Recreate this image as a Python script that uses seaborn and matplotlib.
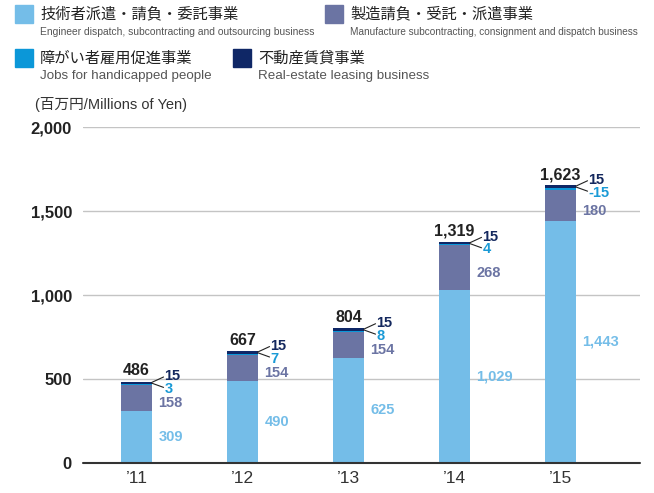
import matplotlib
matplotlib.use("Agg")
import matplotlib.pyplot as plt
import matplotlib.patches as mpatches
import seaborn as sns
import pandas as pd
import numpy as np

years = ["\u201911", "\u201912", "\u201913", "\u201914", "\u201915"]
engineer = [309, 490, 625, 1029, 1443]
manufacture = [158, 154, 154, 268, 180]
jobs = [3, 7, 8, 4, -15]
real_estate = [15, 15, 15, 15, 15]
totals = [486, 667, 804, 1319, 1623]

series_names = [
    ("技術者派遣・請負・委託事業", "Engineer dispatch, subcontracting and outsourcing business"),
    ("製造請負・受託・派遣事業", "Manufacture subcontracting, consignment and dispatch business"),
    ("障がい者雇用促進事業", "Jobs for handicapped people"),
    ("不動産賃貸事業", "Real-estate leasing business"),
]
colors = ["#74bde8", "#6b74a3", "#0b97d8", "#0f2766"]
label_colors = ["#74bde8", "#6b74a3", "#1a9ad6", "#14285e"]

FONT = ["Liberation Sans", "Noto Sans CJK JP", "DejaVu Sans"]


def main():
    sns.set_theme(style="white")
    plt.rcParams["font.family"] = FONT

    fig = plt.figure(figsize=(6.54, 4.93), dpi=100)
    W, H = 654, 493
    ax = fig.add_axes([83 / W, (H - 463) / H, (640 - 83) / W, (463 - 127) / H])

    # cumulative heights, drawn back to front so the stack shows
    layers = [engineer, manufacture, [abs(v) for v in jobs], real_estate]
    cum = np.cumsum(np.array(layers), axis=0)
    df = pd.DataFrame({"year": years})
    for i in range(3, -1, -1):
        df["h"] = cum[i]
        sns.barplot(data=df, x="year", y="h", color=colors[i], width=0.29,
                    saturation=1, ax=ax, linewidth=0)

    ax.set_xlim(-0.505, 4.75)
    ax.set_ylim(0, 2000)
    ax.set_yticks([0, 500, 1000, 1500, 2000])
    ax.set_yticklabels(["0", "500", "1,000", "1,500", "2,000"], fontsize=12,
                       fontweight="bold", color="#222222")
    ax.tick_params(axis="y", length=0, pad=8)
    ax.tick_params(axis="x", length=0, pad=6, labelsize=12.5, labelcolor="#333333")
    ax.set_xlabel("")
    ax.set_ylabel("")
    for s in ax.spines.values():
        s.set_visible(False)
    for v in [500, 1000, 1500, 2000]:
        ax.axhline(v, color="#c4c4c4", lw=1, zorder=0)
    ax.axhline(0, color="#333333", lw=1.5, zorder=5, clip_on=False)

    half = 0.145
    for i in range(len(years)):
        top = cum[3][i]
        # total
        ax.text(i, top + 18, f"{totals[i]:,}", ha="center", va="bottom",
                fontsize=11.5, fontweight="bold", color="#222222")
        # engineer / manufacture labels
        ax.text(i + half + 0.06, engineer[i] / 2, f"{engineer[i]:,}", ha="left",
                va="center", fontsize=10.5, fontweight="bold", color=label_colors[0])
        ax.text(i + half + 0.06, engineer[i] + manufacture[i] / 2 - 32,
                f"{manufacture[i]:,}", ha="left", va="center", fontsize=10.5,
                fontweight="bold", color=label_colors[1])
        # leader lines and small values
        x0 = i + half
        y_re = top + 32
        y_jb = top - 45
        ax.plot([x0, x0 + 0.11], [top - 5, y_re - 5], color="#222222", lw=0.8)
        ax.plot([x0, x0 + 0.11], [top - 10, y_jb + 10], color="#222222", lw=0.8)
        ax.text(x0 + 0.12, y_re, f"{real_estate[i]}", ha="left", va="center",
                fontsize=10.5, fontweight="bold", color=label_colors[3])
        ax.text(x0 + 0.12, y_jb, f"{jobs[i]}", ha="left", va="center",
                fontsize=10.5, fontweight="bold", color=label_colors[2])

    # legend
    legend_pos = [(15, 5), (325, 5), (15, 49), (233, 49)]
    for (jp, en), c, (lx, ly) in zip(series_names, colors, legend_pos):
        fig.patches.append(mpatches.Rectangle((lx / W, 1 - (ly + 18) / H), 18 / W, 18 / H,
                                              transform=fig.transFigure, color=c))
        fig.text((lx + 25) / W, 1 - (ly + 9) / H, jp, fontsize=11, va="center",
                 color="#222222", family=["Noto Sans CJK JP", "DejaVu Sans"])
        if en.startswith("Engineer"):
            en_size = 7.35
        elif en.startswith("Manufacture"):
            en_size = 7.2
        else:
            en_size = 9.6
        fig.text((lx + 25) / W, 1 - (ly + 27) / H, en, fontsize=en_size, va="center",
                 color="#555555")

    fig.text(35 / W, 1 - 104 / H, "(百万円/Millions of Yen)", fontsize=10.5,
             va="center", color="#333333")

    fig.savefig("out.png", dpi=100)


if __name__ == "__main__":
    main()
